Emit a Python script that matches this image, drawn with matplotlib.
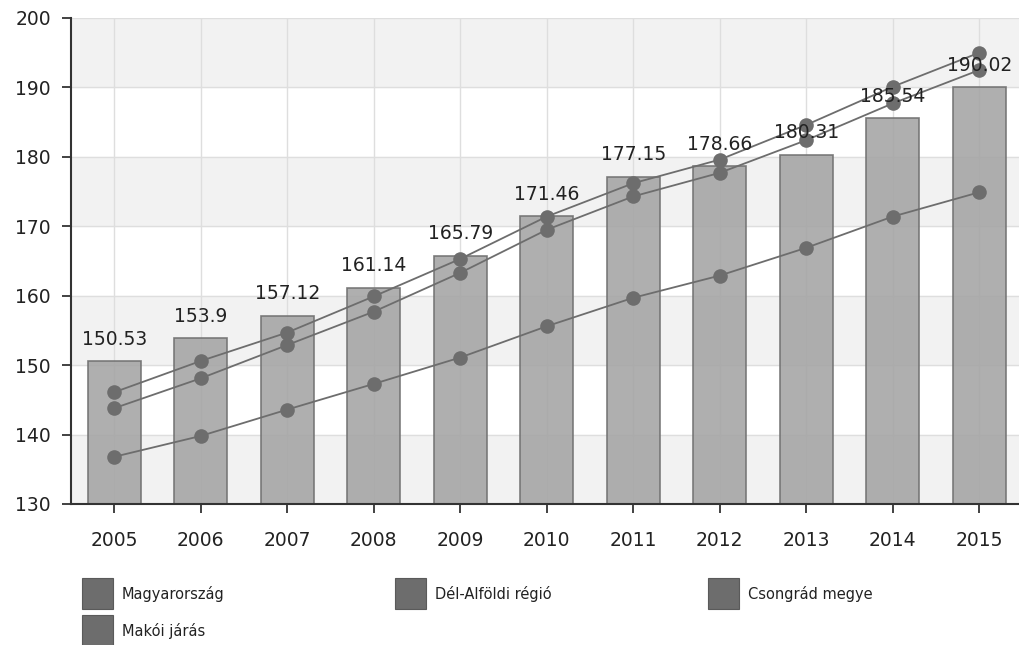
import matplotlib.pyplot as plt
from matplotlib.patches import Rectangle

# data
years = [2005, 2006, 2007, 2008, 2009, 2010, 2011, 2012, 2013, 2014, 2015]
magyarorszag = [150.53, 153.9, 157.12, 161.14, 165.79, 171.46, 177.15, 178.66, 180.31, 185.54, 190.02]
csongrad = [146.1, 150.6, 154.7, 159.9, 165.3, 171.4, 176.2, 179.6, 184.6, 190.1, 195.0]
del_alfold = [143.8, 148.1, 152.9, 157.7, 163.3, 169.5, 174.3, 177.7, 182.4, 187.7, 192.5]
makoi = [136.8, 139.8, 143.6, 147.3, 151.1, 155.6, 159.7, 162.9, 166.9, 171.4, 174.9]
legend_labels = ["Magyarország", "Dél-Alföldi régió", "Csongrád megye", "Makói járás"]

plt.rcParams['font.family'] = ['DejaVu Sans']

W, H = 1019, 645
fig = plt.figure(figsize=(W / 100, H / 100), dpi=100)
ax = fig.add_axes([71 / W, 1 - 504 / H, (W - 71) / W, (504 - 18) / H])

x = list(range(len(years)))
line_col = '#6d6d6d'

# alternating background bands
for lo in range(130, 200, 20):
    ax.axhspan(lo, lo + 10, color='#f2f2f2', zorder=0)

ax.bar(x, magyarorszag, width=0.61, color='#a6a6a6', edgecolor='#707070',
       linewidth=1.2, alpha=0.9, zorder=1)
for xi, v in zip(x, magyarorszag):
    ax.annotate(f"{v:g}", (xi, v), xytext=(0, 9), textcoords='offset points',
                ha='center', va='bottom', fontsize=13.5, color='#222222', zorder=5)

for series in (csongrad, del_alfold, makoi):
    ax.plot(x, series, color=line_col, lw=1.3, marker='o', markersize=10.5,
            markeredgewidth=0, zorder=3)

ax.set_xlim(-0.5, 10.46)
ax.set_ylim(130, 200)
ax.set_yticks(range(130, 201, 10))
ax.set_xticks(x)
ax.set_xticklabels([str(y) for y in years])
ax.grid(True, color='#dedede', lw=1)
ax.set_axisbelow(True)

for s in ('top', 'right'):
    ax.spines[s].set_visible(False)
for s in ('left', 'bottom'):
    ax.spines[s].set_color('#333333')
    ax.spines[s].set_linewidth(1.5)
ax.tick_params(axis='both', direction='out', length=6.5, width=1.3, color='#333333',
               labelsize=13.5, labelcolor='#222222')
ax.tick_params(axis='x', pad=13)
ax.tick_params(axis='y', pad=8)

# legend laid out in rows like the original
leg_pos = [(82, 578), (395, 578), (708, 578), (82, 615)]
for (px, py), lab in zip(leg_pos, legend_labels):
    fig.patches.append(Rectangle((px / W, 1 - (py + 31) / H), 31 / W, 31 / H,
                                 transform=fig.transFigure, facecolor=line_col,
                                 edgecolor='#5a5a5a', lw=0.8))
    fig.text((px + 40) / W, 1 - (py + 16) / H, lab, fontsize=10.5, color='#222222',
             va='center', ha='left')

fig.savefig('out.png', dpi=100)
